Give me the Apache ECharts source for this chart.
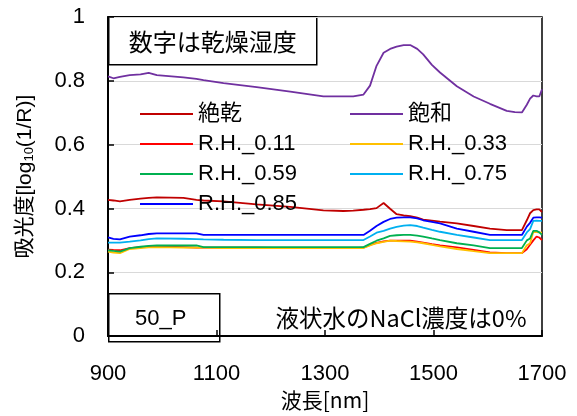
<!DOCTYPE html>
<html>
<head>
<meta charset="utf-8">
<script src="https://cdn.jsdelivr.net/npm/echarts@6/dist/echarts.min.js"></script>
<style>
  html, body { margin: 0; padding: 0; background: #fff; }
  #chart { width: 577px; height: 416px; }
</style>
</head>
<body>
<div id="chart"></div>
<script>
// Wavelength grid [nm] shared by all spectra
const wavelengths = [900, 910, 922, 940, 960, 975, 990, 1039, 1063, 1076, 1113, 1174, 1236, 1297, 1334, 1352, 1371, 1383, 1395, 1408, 1420, 1432, 1445, 1457, 1470, 1481, 1497, 1512, 1543, 1574, 1604, 1635, 1650, 1663, 1672, 1678, 1684, 1690, 1695, 1700];

// Absorbance log10(1/R) for each humidity condition
const absDry = [0.427, 0.425, 0.422, 0.427, 0.431, 0.433, 0.435, 0.433, 0.427, 0.425, 0.422, 0.413, 0.405, 0.394, 0.392, 0.393, 0.396, 0.398, 0.401, 0.417, 0.399, 0.382, 0.378, 0.376, 0.371, 0.365, 0.362, 0.359, 0.353, 0.345, 0.337, 0.332, 0.332, 0.332, 0.363, 0.385, 0.395, 0.397, 0.397, 0.389];
const absSaturated = [0.814, 0.808, 0.812, 0.818, 0.820, 0.825, 0.818, 0.811, 0.806, 0.802, 0.793, 0.780, 0.766, 0.751, 0.751, 0.751, 0.757, 0.785, 0.847, 0.888, 0.900, 0.907, 0.912, 0.912, 0.900, 0.883, 0.850, 0.826, 0.783, 0.751, 0.728, 0.706, 0.702, 0.701, 0.725, 0.744, 0.754, 0.751, 0.751, 0.773];
const absRH011 = [0.271, 0.270, 0.269, 0.276, 0.279, 0.280, 0.281, 0.279, 0.277, 0.277, 0.277, 0.277, 0.276, 0.276, 0.276, 0.276, 0.277, 0.286, 0.292, 0.297, 0.299, 0.299, 0.299, 0.299, 0.296, 0.293, 0.288, 0.284, 0.278, 0.270, 0.262, 0.260, 0.260, 0.260, 0.272, 0.286, 0.300, 0.312, 0.309, 0.301];
const absRH033 = [0.265, 0.262, 0.260, 0.273, 0.276, 0.278, 0.279, 0.277, 0.277, 0.277, 0.276, 0.276, 0.276, 0.276, 0.276, 0.276, 0.276, 0.284, 0.291, 0.295, 0.299, 0.298, 0.297, 0.296, 0.294, 0.291, 0.286, 0.281, 0.273, 0.266, 0.260, 0.260, 0.260, 0.260, 0.285, 0.291, 0.327, 0.326, 0.325, 0.324];
const absRH059 = [0.269, 0.267, 0.265, 0.276, 0.280, 0.283, 0.284, 0.284, 0.284, 0.279, 0.279, 0.279, 0.279, 0.279, 0.279, 0.279, 0.279, 0.289, 0.299, 0.306, 0.314, 0.316, 0.317, 0.317, 0.315, 0.312, 0.306, 0.301, 0.291, 0.284, 0.276, 0.276, 0.276, 0.276, 0.300, 0.306, 0.330, 0.330, 0.325, 0.317];
const absRH075 = [0.293, 0.293, 0.293, 0.296, 0.300, 0.304, 0.306, 0.305, 0.304, 0.303, 0.302, 0.301, 0.301, 0.301, 0.301, 0.301, 0.301, 0.312, 0.324, 0.330, 0.337, 0.342, 0.346, 0.348, 0.345, 0.340, 0.333, 0.327, 0.317, 0.309, 0.301, 0.301, 0.301, 0.301, 0.325, 0.335, 0.361, 0.362, 0.361, 0.361];
const absRH085 = [0.309, 0.305, 0.303, 0.312, 0.316, 0.320, 0.322, 0.322, 0.322, 0.317, 0.317, 0.317, 0.317, 0.317, 0.317, 0.317, 0.317, 0.330, 0.345, 0.358, 0.367, 0.371, 0.372, 0.372, 0.369, 0.363, 0.358, 0.353, 0.337, 0.327, 0.317, 0.317, 0.317, 0.317, 0.343, 0.355, 0.371, 0.372, 0.372, 0.371];

const seriesNames = ['絶乾', '飽和', 'R.H._0.11', 'R.H._0.33', 'R.H._0.59', 'R.H._0.75', 'R.H._0.85'];
const seriesValues = [absDry, absSaturated, absRH011, absRH033, absRH059, absRH075, absRH085];
const seriesColors = ['#C00000', '#7030A0', '#FF0000', '#FFC000', '#00B050', '#00B0F0', '#0000FF'];

const xTicks = { min: 900, max: 1700, step: 200 };
const yTicks = { min: 0, max: 1, step: 0.2 };

const LATIN = '"Liberation Sans", Arial, "Noto Sans CJK JP", sans-serif';
const CJK = '"Noto Sans CJK JP", "Liberation Sans", sans-serif';

const chart = echarts.init(document.getElementById('chart'), null, { renderer: 'canvas' });

const series = seriesNames.map((name, i) => ({
  name: name,
  type: 'line',
  symbol: 'none',
  z: 3,
  lineStyle: { color: seriesColors[i], width: 1.8 },
  itemStyle: { color: seriesColors[i] },
  data: wavelengths.map((w, k) => [w, seriesValues[i][k]])
}));

chart.setOption({
  animation: false,
  backgroundColor: '#fff',
  grid: {
    left: 108, top: 17, width: 434, height: 324,
    show: true, borderColor: '#000', borderWidth: 1.5, backgroundColor: 'transparent'
  },
  legend: {
    data: seriesNames,
    left: 135, top: 98, width: 430,
    orient: 'horizontal',
    icon: 'rect',
    itemWidth: 53, itemHeight: 2, itemGap: 8,
    textStyle: { fontFamily: LATIN, fontSize: 22, color: '#000', width: 144, lineHeight: 16 },
    selectedMode: false
  },
  xAxis: {
    type: 'value',
    min: xTicks.min, max: xTicks.max, interval: xTicks.step,
    name: '波長[nm]',
    nameLocation: 'middle',
    nameGap: 53,
    nameTextStyle: { fontFamily: CJK, fontSize: 21, color: '#000' },
    axisLine: { lineStyle: { color: '#000', width: 2 } },
    axisTick: { inside: true, length: 6, lineStyle: { color: '#000', width: 1.5 } },
    axisLabel: { margin: 27, fontFamily: LATIN, fontSize: 22, color: '#000', formatter: v => String(v) },
    splitLine: { show: false }
  },
  yAxis: {
    type: 'value',
    min: yTicks.min, max: yTicks.max, interval: yTicks.step,
    name: '{a|吸光度[log}{s|10}{a|(1/R)]}',
    nameLocation: 'middle',
    nameRotate: 90,
    nameGap: 72,
    nameTextStyle: {
      rich: {
        a: { fontFamily: LATIN, fontSize: 21, color: '#000' },
        s: { fontFamily: LATIN, fontSize: 13, color: '#000', padding: [8, 0, 0, 0] }
      }
    },
    axisLine: { lineStyle: { color: '#000', width: 2 } },
    axisTick: { inside: true, length: 6, lineStyle: { color: '#000', width: 1.5 } },
    axisLabel: { margin: 23, fontFamily: LATIN, fontSize: 22, color: '#000' },
    splitLine: { lineStyle: { color: '#D9D9D9', width: 1 } }
  },
  graphic: [
    {
      type: 'group', left: 108, top: 16, z: 10,
      children: [
        { type: 'rect', shape: { x: 0, y: 0, width: 208, height: 48 },
          style: { fill: '#fff', stroke: '#000', lineWidth: 1.5 } },
        { type: 'text', x: 104, y: 25,
          style: { text: '数字は乾燥湿度', font: '24px ' + CJK, fill: '#000', align: 'center', verticalAlign: 'middle' } }
      ]
    },
    {
      type: 'group', left: 108, top: 293, z: 10,
      children: [
        { type: 'rect', shape: { x: 0, y: 0, width: 111, height: 48 },
          style: { fill: '#fff', stroke: '#000', lineWidth: 1.5 } },
        { type: 'text', x: 52, y: 25,
          style: { text: '50_P', font: '22px ' + LATIN, fill: '#000', align: 'center', verticalAlign: 'middle' } }
      ]
    },
    {
      type: 'text', z: 10, x: 401, y: 318,
      style: { text: '液状水のNaCl濃度は0%', font: '23.5px ' + CJK, fill: '#000', align: 'center', verticalAlign: 'middle' }
    }
  ],
  series: series
});
</script>
</body>
</html>
